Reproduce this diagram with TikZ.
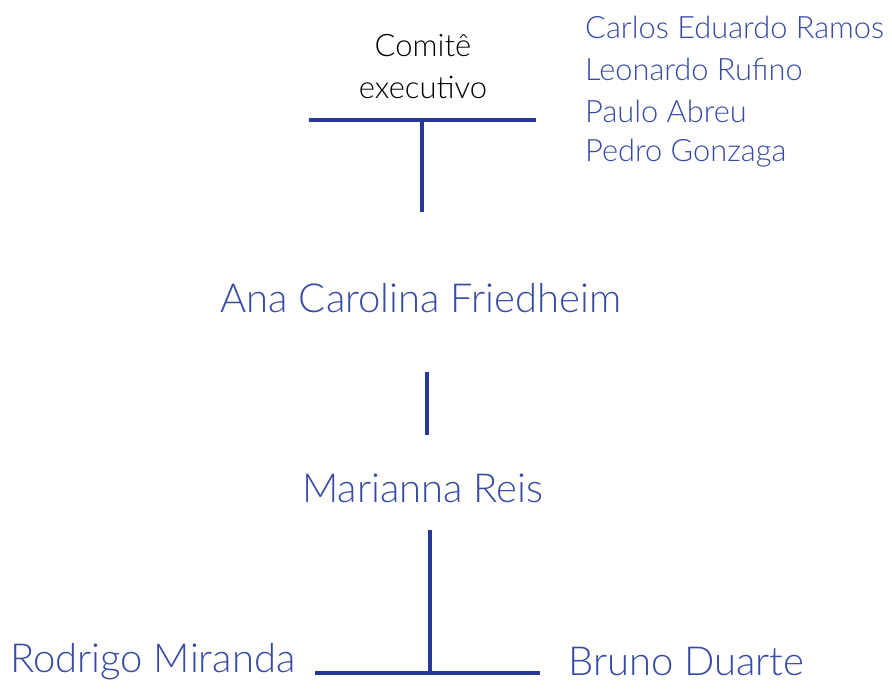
\documentclass[tikz,border=0pt]{standalone}
\usepackage{fontspec}
\setmainfont{Lato Light}
\definecolor{lineblue}{RGB}{40,56,150}
\definecolor{textblue}{RGB}{55,75,165}
\begin{document}
\begin{tikzpicture}[x=1pt,y=-1pt,
  conn/.style={draw=lineblue,line width=3.5pt},
  person/.style={text=textblue,inner sep=0pt,font=\fontsize{40}{48}\selectfont},
  member/.style={text=textblue,inner sep=0pt,anchor=west,font=\fontsize{30.8}{36}\selectfont},
  head/.style={text=black,inner sep=0pt,align=center,font=\fontsize{31}{42}\selectfont}]
\useasboundingbox (0,0) rectangle (892,690);
\node[head] (comite) at (423,67) {Comitê\\executivo};
\node[member] (m1) at (585,27) {Carlos Eduardo Ramos};
\node[member] (m2) at (585,69) {Leonardo Rufino};
\node[member] (m3) at (585,111) {Paulo Abreu};
\node[member] (m4) at (585,153) {Pedro Gonzaga};
\node[person] (ana) at (421,298) {Ana Carolina Friedheim};
\node[person] (mari) at (423,488) {Marianna Reis};
\node[person,anchor=west] (rod) at (10,662) {Rodrigo Miranda};
\node[person,anchor=west] (bruno) at (568,662) {Bruno Duarte};
\coordinate (tl) at (309,120);
\coordinate (tr) at (536,120);
\coordinate (tm) at (422,120);
\coordinate (tb) at (422,212);
\coordinate (ma) at (427,372);
\coordinate (mb) at (427,435);
\coordinate (bt) at (430,530);
\coordinate (bm) at (430,673);
\coordinate (bl) at (315,673);
\coordinate (br) at (540,673);
\draw[conn] (tl) -- (tr);
\draw[conn] (tm) -- (tb);
\draw[conn] (ma) -- (mb);
\draw[conn] (bt) -- (bm);
\draw[conn] (bl) -- (br);
\end{tikzpicture}
\end{document}
